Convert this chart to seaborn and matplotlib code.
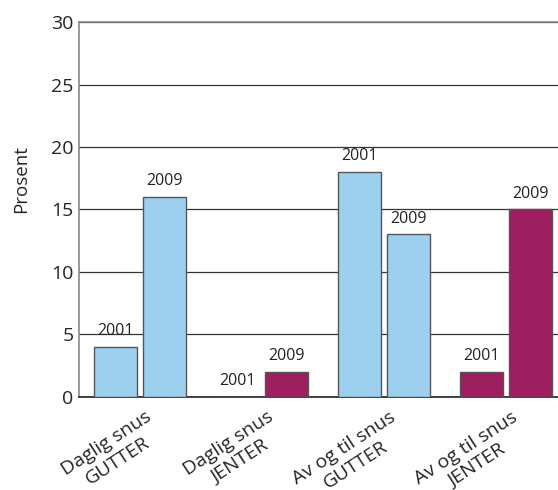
import matplotlib
matplotlib.use("Agg")
import matplotlib.pyplot as plt
import matplotlib.transforms as mtrans
import seaborn as sns
import pandas as pd

# Data
categories = ["Daglig snus\nGUTTER", "Daglig snus\nJENTER",
              "Av og til snus\nGUTTER", "Av og til snus\nJENTER"]
years = ["2001", "2009"]
values_2001 = [4, 0, 18, 2]
values_2009 = [16, 2, 13, 15]
yticks = [0, 5, 10, 15, 20, 25, 30]

BLUE = "#9dcfee"
PURPLE = "#9e1f5f"
group_colors = [BLUE, PURPLE, BLUE, PURPLE]

sns.set_style("white")
plt.rcParams["font.family"] = ["Open Sans", "DejaVu Sans"]

df = pd.DataFrame({
    "kategori": categories * 2,
    "år": [years[0]] * 4 + [years[1]] * 4,
    "prosent": values_2001 + values_2009,
})

fig = plt.figure(figsize=(5.58, 4.90), dpi=100)
ax = fig.add_axes([0.1416, 0.19, 0.8744, 0.765])

ax.set_axisbelow(True)
ax.set_ylim(0, 30)
ax.set_yticks(yticks)
ax.yaxis.grid(True, color="#333333", linewidth=0.9)

sns.barplot(data=df, x="kategori", y="prosent", hue="år", order=categories,
            hue_order=years, dodge=True, gap=0.12, width=0.8,
            edgecolor="#555555", linewidth=1.0, legend=False, ax=ax, zorder=3)

# recolour bars by gender and add year labels
for container, year in zip(ax.containers, years):
    for i, bar in enumerate(container):
        bar.set_facecolor(group_colors[i])
        h = bar.get_height()
        ax.text(bar.get_x() + bar.get_width() / 2, h + 0.6, year,
                ha="center", va="bottom", fontsize=11.5, color="#222222")

ax.set_xlim(-0.5, 3.5)
ax.set_xlabel("")
ax.set_ylabel("Prosent", fontsize=13.5)
ax.yaxis.set_label_coords(-0.1, 0.58)

ax.set_xticks(range(4))
ax.set_xticklabels(categories, rotation=33, ha="right", va="top",
                   rotation_mode="anchor", multialignment="center", fontsize=14)
ax.tick_params(axis="x", length=0, pad=8)
offset = mtrans.ScaledTranslation(0.05, 0.0, fig.dpi_scale_trans)
for lbl in ax.get_xticklabels():
    lbl.set_transform(lbl.get_transform() + offset)

ax.set_xticks([0.5, 1.5, 2.5], minor=True)
ax.tick_params(axis="x", which="minor", direction="in", length=8,
               color="#555555", width=1)
ax.tick_params(axis="y", length=0, labelsize=14, pad=4)

for side in ["left", "top", "right"]:
    ax.spines[side].set_color("#888888")
    ax.spines[side].set_linewidth(1.2)
ax.spines["bottom"].set_color("#222222")
ax.spines["bottom"].set_linewidth(1.2)

fig.savefig("out.png", dpi=100)
